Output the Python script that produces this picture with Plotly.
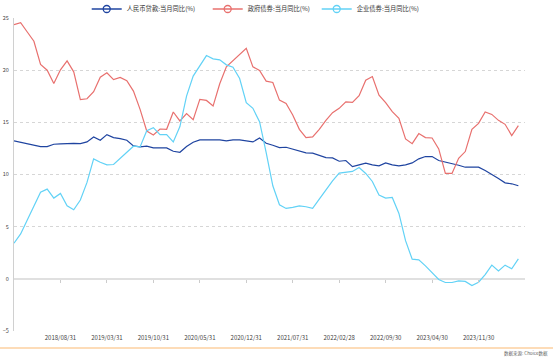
import pandas as pd
import plotly.graph_objects as go

# Monthly categories 2018/01 .. 2024/05 (77 points); axis extends one more month
categories = [d.strftime('%Y/%m/%d') for d in pd.date_range('2018-01-31', periods=78, freq='ME')]

loans = [13.22, 13.09, 12.93, 12.8, 12.68, 12.68, 12.9, 12.93, 12.99, 12.99,
         12.96, 13.12, 13.6, 13.28, 13.82, 13.54, 13.44, 13.28, 12.74, 12.64,
         12.71, 12.55, 12.55, 12.55, 12.23, 12.13, 12.68, 13.09, 13.31, 13.31,
         13.31, 13.31, 13.22, 13.31, 13.31, 13.22, 13.12, 13.5, 13.0, 12.8,
         12.58, 12.61, 12.42, 12.26, 12.07, 12.04, 11.85, 11.62, 11.59, 11.27,
         11.34, 10.76, 10.92, 11.08, 10.92, 10.83, 11.11, 10.92, 10.83, 10.92,
         11.11, 11.5, 11.72, 11.72, 11.34, 11.21, 11.02, 10.89, 10.7, 10.7,
         10.7, 10.38, 10.03, 9.62, 9.2, 9.11, 8.92]

gov_bonds = [24.36, 24.55, 23.66, 22.77, 20.54, 20.0, 18.73, 20.03, 20.89, 19.84,
             17.17, 17.26, 17.93, 19.33, 19.75, 19.1, 19.3, 19.0, 17.99, 16.24,
             14.17, 13.79, 14.36, 14.33, 15.99, 15.13, 15.83, 15.25, 17.2, 17.1,
             16.56, 18.7, 20.32, 20.92, 21.43, 22.1, 20.32, 19.97, 18.95, 18.82,
             17.13, 16.82, 15.7, 14.33, 13.54, 13.6, 14.33, 15.19, 15.92, 16.34,
             16.97, 16.91, 17.55, 19.04, 19.39, 17.61, 16.88, 16.02, 15.38, 13.41,
             12.96, 13.92, 13.54, 13.5, 12.45, 10.1, 10.1, 11.56, 12.2, 14.33,
             14.9, 15.99, 15.76, 15.19, 14.81, 13.73, 14.68]

corp_bonds = [3.41, 4.3, 5.64, 7.04, 8.31, 8.6, 7.74, 8.18, 7.0, 6.62,
              7.55, 9.24, 11.5, 11.18, 10.92, 10.96, 11.56, 12.1, 12.71, 12.64,
              14.2, 14.49, 13.82, 13.82, 13.12, 14.59, 17.52, 19.43, 20.38, 21.4,
              21.08, 20.99, 20.51, 20.29, 19.2, 16.88, 16.34, 15.06, 12.1, 8.92,
              7.1, 6.75, 6.85, 7.0, 6.91, 6.75, 7.64, 8.54, 9.39, 10.13,
              10.22, 10.29, 10.67, 10.1, 9.33, 8.03, 7.74, 7.8, 6.27, 3.66,
              1.88, 1.82, 1.24, 0.61, -0.06, -0.35, -0.35, -0.19, -0.25, -0.64,
              -0.32, 0.41, 1.31, 0.76, 1.31, 0.96, 1.91]

series_names = ['人民币贷款:当月同比(%)', '政府债券:当月同比(%)', '企业债券:当月同比(%)']
series_colors = ['#1f44a0', '#e8706e', '#62d2f6']
legend_widths = [76, 64, 64]

x_ticks = ['2018/08/31', '2019/03/31', '2019/10/31', '2020/05/31', '2020/12/31',
           '2021/07/31', '2022/02/28', '2022/09/30', '2023/04/30', '2023/11/30']
y_ticks = [-5, 0, 5, 10, 15, 20, 25]

FONT = 'Noto Sans CJK SC, Noto Sans, sans-serif'

fig = go.Figure()
n = len(loans)
for name, vals, col in zip(series_names, [loans, gov_bonds, corp_bonds], series_colors):
    fig.add_trace(go.Scatter(x=categories[:n], y=vals, mode='lines', name=name,
                             line=dict(color=col, width=1.2), showlegend=False,
                             hoverinfo='x+y'))
for name, col, lw in zip(series_names, series_colors, legend_widths):
    fig.add_trace(go.Scatter(x=[None], y=[None], mode='lines+markers', name=name,
                             legendwidth=lw,
                             line=dict(color=col, width=1.3),
                             marker=dict(symbol='circle-open', size=7, color=col,
                                         line=dict(width=1.3, color=col))))

# Tick marks along zero line (secondary axis)
fig.add_trace(go.Scatter(x=[categories[0]], y=[None], xaxis='x2', showlegend=False,
                         hoverinfo='skip'))

fig.update_layout(
    width=553, height=358,
    margin=dict(l=14, r=28, t=18, b=27, autoexpand=False),
    paper_bgcolor='white', plot_bgcolor='white',
    font=dict(family=FONT, size=6, color='#333'),
    showlegend=True,
    legend=dict(orientation='h', x=0.474, xanchor='center',
                yref='container', y=1 - 9 / 358, yanchor='middle',
                font=dict(size=6.3, color='#333'), itemwidth=30,
                bgcolor='rgba(0,0,0,0)', tracegroupgap=0),
    xaxis=dict(type='category', categoryorder='array', categoryarray=categories,
               range=[0, len(categories) - 1], tickmode='array', tickvals=x_ticks,
               ticktext=x_ticks, showgrid=False, zeroline=False, showline=False,
               ticks='', tickfont=dict(size=6, color='#444'), ticklabelstandoff=2,
               automargin=False),
    xaxis2=dict(type='category', categoryorder='array', categoryarray=categories,
                range=[0, len(categories) - 1], tickmode='array', tickvals=x_ticks,
                overlaying='x', anchor='free', position=5 / 30, showticklabels=False,
                ticks='outside', ticklen=3, tickcolor='#ccc', tickwidth=1,
                showgrid=False, zeroline=False, showline=False, automargin=False),
    yaxis=dict(range=[-5, 25], tickmode='array', tickvals=y_ticks,
               showgrid=True, gridcolor='#d6d6d6', griddash='dot', gridwidth=1,
               zeroline=True, zerolinecolor='#e0e0e0', zerolinewidth=2,
               showline=True, linecolor='#d0d0d0', linewidth=1,
               ticks='', tickfont=dict(size=5.5, color='#444'), ticklabelstandoff=3,
               automargin=False),
    shapes=[dict(type='line', xref='paper', yref='paper',
                 x0=-14 / 511, x1=539 / 511, y0=-17 / 313, y1=-17 / 313,
                 line=dict(color='#fdd0a0', width=1.5))],
    annotations=[dict(text='数据来源: Choice数据', xref='paper', yref='paper',
                      x=536 / 511, y=-22 / 313, xanchor='right', yanchor='middle',
                      showarrow=False, font=dict(size=4.5, color='#666'))],
)

fig.write_html('out.html', config={'displayModeBar': False},
               post_script="document.body.style.margin='0';document.body.style.overflow='hidden';")
